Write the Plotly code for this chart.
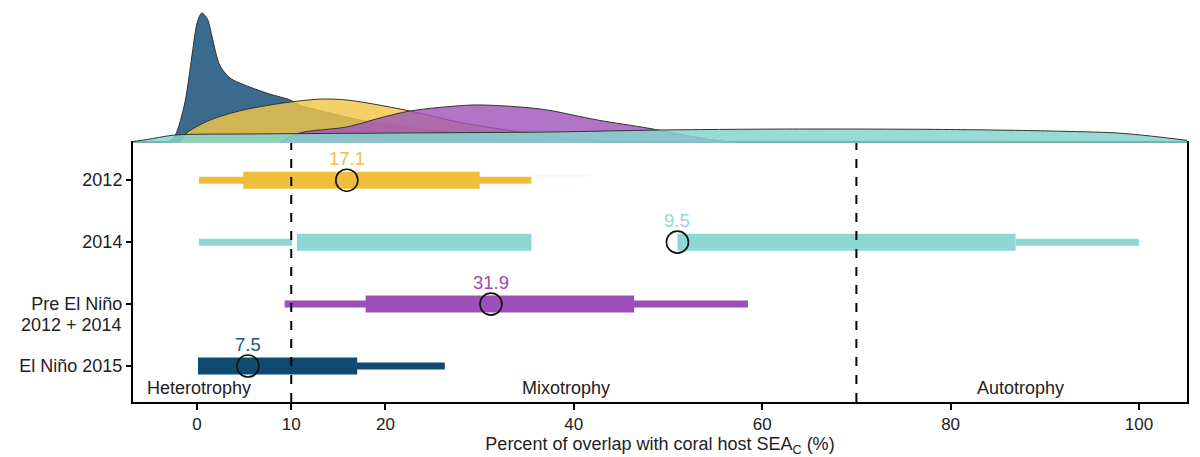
import plotly.graph_objects as go

# ---------------- data ----------------
categories = ["El Niño 2015", "Pre El Niño", "2014", "2012"]
category_second_line = "2012 + 2014"
cat_pos = [0, 1, 2, 3]

# interval segments per group (percent overlap)
thin_2012 = [[0.2, 35.5]]
thick_2012 = [[4.9, 30.0]]
faint_2012 = [[35.5, 41.7]]
mode_2012 = 15.9
label_2012 = "17.1"

thin_2014 = [[0.2, 10.1], [86.9, 100.0]]
thick_2014 = [[10.6, 35.5], [51.0, 86.9]]
mode_2014 = 51.0
label_2014 = "9.5"

thin_pre = [[9.3, 58.5]]
thick_pre = [[17.9, 46.4]]
mode_pre = 31.2
label_pre = "31.9"

thin_2015 = [[0.1, 26.3]]
thick_2015 = [[0.1, 17.0]]
mode_2015 = 5.4
label_2015 = "7.5"

# density curves (arbitrary height units)
dens_2015_x = [-5.0, -2.9, -2.3, -1.3, -0.5, 0.0, 0.5, 1.1, 1.6, 2.4, 3.5, 5.6, 7.7, 9.9, 10.9, 14.1, 17.3, 21.5, 24.7, 29.0, 34.3, 38.5]
dens_2015_y = [0, 2, 8, 40, 90, 120, 130, 124, 106, 78, 65, 56, 49, 43, 38, 30, 23, 17, 13, 9, 3, 0]

dens_2012_x = [-1.8, -1.1, 1.4, 4.9, 9.9, 13.4, 15.9, 18.7, 22.6, 28.2, 34.3, 38.5, 42.8]
dens_2012_y = [0, 10, 23, 33, 41, 44, 43, 39, 32, 20, 11, 5, 0]

dens_pre_x = [8.8, 10.9, 15.9, 19.4, 22.6, 29.3, 34.3, 37.2, 42.5, 47.8, 49.5, 53.4, 57.6]
dens_pre_y = [0, 10, 16, 25, 32, 38, 36, 33, 23, 15, 12, 5, 0]

dens_2014_x = [-7.1, -5.0, -2.3, 5.6, 21.5, 37.5, 49.2, 64.0, 79.9, 90.6, 97.7, 101.2, 105.2]
dens_2014_y = [1, 4, 8, 9, 10, 11, 13, 14, 13.5, 12, 10, 7, 2.5]

x_ticks = [0, 10, 20, 40, 60, 80, 100]
region_lines = [10, 70]
regions = [("Heterotrophy", 0.2), ("Mixotrophy", 39.2), ("Autotrophy", 87.4)]

# ---------------- styling ----------------
c_yellow = "#efbe3c"
c_teal = "#8ed8d3"
c_purple = "#9b4fb8"
c_navy = "#0f4a70"
FONT = "Liberation Sans, Arial, sans-serif"

fig = go.Figure()

# densities (top panel)
dens = [
    (dens_2015_x, dens_2015_y, "rgba(42,93,133,0.92)"),
    (dens_2012_x, dens_2012_y, "rgba(242,198,72,0.82)"),
    (dens_pre_x, dens_pre_y, "rgba(160,85,185,0.82)"),
    (dens_2014_x, dens_2014_y, "rgba(135,212,206,0.85)"),
]
for dx, dy, col in dens:
    fig.add_trace(go.Scatter(
        x=dx, y=dy, xaxis="x2", yaxis="y2", mode="lines",
        line=dict(color="#333333", width=1, shape="spline", smoothing=0.8),
        fill="tozeroy", fillcolor=col, hoverinfo="skip", showlegend=False))

groups = [
    (3, thin_2012, thick_2012, mode_2012, label_2012, c_yellow, "#efbf3f"),
    (2, thin_2014, thick_2014, mode_2014, label_2014, c_teal, "#97d3dc"),
    (1, thin_pre, thick_pre, mode_pre, label_pre, c_purple, "#9b4db5"),
    (0, thin_2015, thick_2015, mode_2015, label_2015, c_navy, "#1e5578"),
]

# faint extension on 2012
for lo, hi in faint_2012:
    fig.add_trace(go.Scatter(x=[lo, hi], y=[3.07, 3.07], mode="lines",
                             line=dict(color="rgba(240,200,80,0.12)", width=2),
                             showlegend=False, hoverinfo="skip"))

for yv, thin, thick, md, lab, col, tcol in groups:
    for lo, hi in thin:
        fig.add_trace(go.Scatter(x=[lo, hi], y=[yv, yv], mode="lines",
                                 line=dict(color=col, width=7),
                                 showlegend=False, hoverinfo="skip"))
    for lo, hi in thick:
        fig.add_trace(go.Scatter(x=[lo, hi], y=[yv, yv], mode="lines",
                                 line=dict(color=col, width=17),
                                 showlegend=False, hoverinfo="skip"))
    fig.add_trace(go.Scatter(x=[md], y=[yv], mode="markers",
                             marker=dict(symbol="circle-open", size=22,
                                         color="#111111", line=dict(width=1.6)),
                             showlegend=False, hoverinfo="skip"))
    fig.add_annotation(x=md, y=yv, text=lab, showarrow=False, yshift=22,
                       font=dict(family=FONT, size=18.5, color=tcol))

# second line of the "Pre El Niño" category label
fig.add_annotation(xref="paper", x=0, xanchor="right", xshift=-9,
                   yref="y", y=1, yshift=-21, text=category_second_line,
                   showarrow=False, font=dict(family=FONT, size=18, color="#222222"))

for xv in region_lines:
    fig.add_shape(type="line", xref="x", yref="y domain", x0=xv, x1=xv, y0=0, y1=1,
                  line=dict(color="black", width=2, dash="dash"), layer="above")

for txt, xv in regions:
    fig.add_annotation(x=xv, y=-0.355, text=txt, showarrow=False,
                       font=dict(family=FONT, size=18, color="#222222"))

main_top = (402 - 143) / 402

fig.update_layout(
    width=1200, height=457,
    margin=dict(l=133, r=13, t=0, b=55),
    paper_bgcolor="white", plot_bgcolor="white",
    font=dict(family=FONT, size=17, color="#222222"),
    xaxis=dict(range=[-6.8, 105.1], tickvals=x_ticks, ticks="outside", ticklen=6,
               tickwidth=1.5, tickcolor="black", showline=True, linecolor="black",
               linewidth=2, mirror=True, showgrid=False, zeroline=False,
               tickfont=dict(size=17, color="#222222"),
               title=dict(text="Percent of overlap with coral host SEA<sub>C</sub> (%)",
                          font=dict(size=18, color="#222222"), standoff=2),
               anchor="y"),
    yaxis=dict(domain=[0, main_top], range=[-0.58, 3.6], tickvals=cat_pos,
               ticktext=categories, ticks="outside", ticklen=5, tickwidth=1.5,
               tickcolor="black", showline=True, linecolor="black", linewidth=2,
               mirror=True, showgrid=False, zeroline=False,
               tickfont=dict(size=18, color="#222222")),
    xaxis2=dict(matches="x", anchor="y2", visible=False),
    yaxis2=dict(domain=[main_top, 1], range=[0, 143], visible=False),
)

fig.write_html("out.html", config={"displayModeBar": False},
               post_script="document.body.style.margin='0';document.body.style.overflow='hidden';")
